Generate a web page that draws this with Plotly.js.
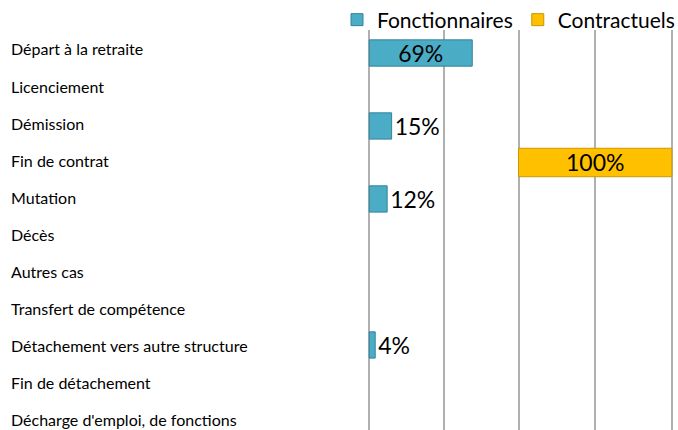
<!DOCTYPE html>
<html>
<head>
<meta charset="utf-8">
<script src="https://cdn.plot.ly/plotly-3.0.1.min.js"></script>
<style>html,body{margin:0;padding:0;background:#fff;}#chart{width:678px;height:430px;}</style>
</head>
<body>
<div id="chart"></div>
<script>
const categories = ["Départ à la retraite","Licenciement","Démission","Fin de contrat","Mutation","Décès","Autres cas","Transfert de compétence","Détachement vers autre structure","Fin de détachement","Décharge d'emploi, de fonctions"];
const fonctionnaires = [0.69, null, 0.15, null, 0.12, null, null, null, 0.04, null, null];
const contractuels = [null, null, null, 1.00, null, null, null, null, null, null, null];
const seriesNames = ["Fonctionnaires","Contractuels"];

function labels(vals){ return vals.map(v => v == null ? "" : Math.round(v*100) + "%"); }
function positions(vals){ return vals.map(v => (v != null && v >= 0.5) ? "inside" : "outside"); }

const font = "Lato, 'Open Sans', sans-serif";

const traces = [
  {type:"bar", orientation:"h", name:seriesNames[0], y:categories, x:fonctionnaires,
   xaxis:"x", yaxis:"y", width:0.72,
   marker:{color:"#4bacc6", line:{color:"#31849b", width:1}},
   text:labels(fonctionnaires), textposition:positions(fonctionnaires),
   insidetextanchor:"middle", constraintext:"none", cliponaxis:false,
   textfont:{family:font, size:23, color:"#000"}, hoverinfo:"skip"},
  {type:"bar", orientation:"h", name:seriesNames[1], y:categories, x:contractuels,
   xaxis:"x2", yaxis:"y", width:0.78,
   marker:{color:"#ffc000", line:{color:"#c99700", width:1}},
   text:labels(contractuels), textposition:positions(contractuels),
   insidetextanchor:"middle", constraintext:"none", cliponaxis:false,
   textfont:{family:font, size:23, color:"#000"}, hoverinfo:"skip"}
];

const L = 367, R = 5, W = 678, T = 30, H = 430;
const plotW = W - L - R;
const plotH = H - T;
const panel = 151.5;          // px per 100%
const pad = 0.015;            // keep edge gridlines inside their subplot
const padPx = pad * panel;
const dom1 = [(0 - padPx)/plotW, (panel + padPx)/plotW];
const dom2 = [(panel - padPx)/plotW, 1];
const annotations = categories.map((c, i) => ({
  text:c, xref:"paper", yref:"y", x:(9 - L)/plotW, y:c, xanchor:"left", yanchor:"middle",
  yshift:4 - 0.6*i,
  showarrow:false, font:{family:font, size:16, color:"#000"}
}));

const gridAxis = (dom, rng) => ({domain:dom, range:rng, showgrid:true, gridcolor:"#b0b0b0", gridwidth:2,
  tick0:0, dtick:0.5, showticklabels:false, zeroline:false, showline:false, ticks:"", fixedrange:true});

const layout = {
  width:W, height:H,
  margin:{l:L, r:R, t:T, b:0, pad:0, autoexpand:false},
  paper_bgcolor:"#fff", plot_bgcolor:"rgba(0,0,0,0)",
  font:{family:font, color:"#000"},
  showlegend:true,
  legend:{orientation:"h", x:(337 - L)/plotW, xanchor:"left", y:1 + 10/plotH, yanchor:"middle",
          font:{family:font, size:21, color:"#000"}, itemwidth:30, tracegroupgap:0,
          bgcolor:"rgba(0,0,0,0)"},
  xaxis:gridAxis(dom1, [-pad, 1 + pad]),
  xaxis2:gridAxis(dom2, [-pad, 1 + pad*0.5]),
  yaxis:{range:[10.33,-0.63], showticklabels:false, showgrid:false, zeroline:false, ticks:"", fixedrange:true},
  annotations:annotations
};

Plotly.newPlot("chart", traces, layout, {displayModeBar:false, staticPlot:true});
</script>
</body>
</html>
